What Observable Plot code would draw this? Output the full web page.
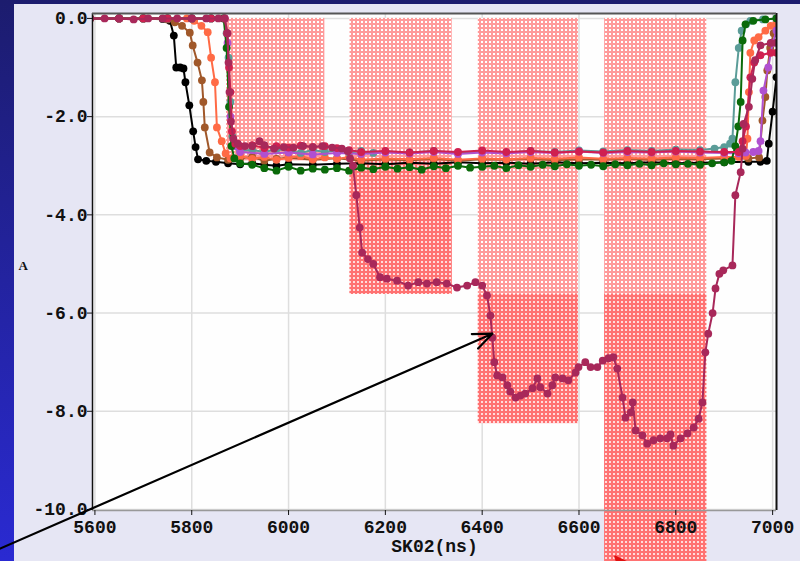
<!DOCTYPE html>
<html>
<head>
<meta charset="utf-8">
<script src="https://cdn.jsdelivr.net/npm/d3@7"></script>
<script src="https://cdn.jsdelivr.net/npm/@observablehq/plot@0.6"></script>
<style>
  html, body { margin: 0; padding: 0; width: 800px; height: 561px; overflow: hidden; }
  body {
    background:
      linear-gradient(#e6e6f4, #e6e6f4) 14px 4px / 100% 100% no-repeat,
      linear-gradient(to bottom, #1c1c6e, #2a2ad2);
  }
</style>
</head>
<body>
<div id="chart"></div>
<script>
// ---- axis ticks / labels ----
const xTicks = [5600, 5800, 6000, 6200, 6400, 6600, 6800, 7000];
const yTicks = [0, -2, -4, -6, -8, -10];
const xDomain = [5595, 7008];
const yDomain = [-10.02, 0.1];
const xLabel = "SK02(ns)";
const yLabel = "A";

// ---- shaded windows (x1, x2) and levels ----
const winX1 = [5872, 6127, 6392, 6653];
const winX2 = [6075, 6338, 6599, 6864];
const winTop = [0, 0, 0, 0];
const winBottom = [-2.9, -5.62, -8.25, -11.6];
const denseTop = [null, -2.9, -5.62, -5.62];

// ---- annotation arrows ----
const arrowFrom = [[5403, -10.8], [6760, -11.9]];
const arrowTo = [[6421, -6.42], [6675, -10.96]];
const arrowColor = ["#000000", "#e01010"];

// ---- series ----
const black = [[5590,0],[5650,0],[5700,0],[5740,-0.01],[5755,-0.05],[5763,-0.35],[5768,-1.0],[5776,-1.0],[5783,-1.02],[5787,-1.3],[5795,-1.77],[5803,-2.3],[5808,-2.62],[5813,-2.87],[5830,-2.9],[5850,-2.92],[5875,-2.95],[5900,-2.97],[5925,-2.95],[5950,-2.98],[5975,-3.0],[6000,-2.97],[6050,-2.98],[6100,-2.96],[6150,-2.95],[6200,-2.97],[6250,-2.94],[6300,-2.96],[6350,-2.93],[6400,-2.95],[6450,-2.94],[6500,-2.96],[6550,-2.93],[6600,-2.95],[6650,-2.94],[6700,-2.95],[6750,-2.93],[6800,-2.95],[6850,-2.94],[6900,-2.93],[6950,-2.92],[6975,-2.92],[6988,-2.9],[6992,-2.55],[7000,-1.9],[7008,-1.2]];
const brown = [[5590,0],[5650,0],[5700,0],[5750,-0.02],[5765,-0.08],[5780,-0.15],[5796,-0.29],[5802,-0.55],[5812,-0.9],[5821,-1.26],[5824,-1.7],[5827,-2.22],[5837,-2.73],[5852,-2.83],[5875,-2.88],[5900,-2.85],[5925,-2.82],[5950,-2.9],[5975,-2.86],[6000,-2.83],[6050,-2.88],[6100,-2.85],[6150,-2.9],[6200,-2.87],[6250,-2.89],[6300,-2.86],[6350,-2.9],[6400,-2.87],[6450,-2.88],[6500,-2.86],[6550,-2.89],[6600,-2.87],[6650,-2.88],[6700,-2.86],[6750,-2.88],[6800,-2.86],[6850,-2.87],[6900,-2.85],[6950,-2.85],[6972,-2.83],[6979,-2.08],[6985,-1.6],[6989,-1.06],[6995,-0.6],[7002,-0.3],[7008,-0.2]];
const tomato = [[5590,0],[5650,0],[5700,0],[5750,0],[5790,0],[5805,-0.05],[5820,-0.15],[5833,-0.28],[5840,-0.8],[5848,-1.3],[5852,-2.22],[5862,-2.5],[5870,-2.75],[5880,-2.85],[5900,-2.8],[5925,-2.86],[5950,-2.82],[5975,-2.88],[6000,-2.84],[6025,-2.8],[6050,-2.87],[6075,-2.83],[6100,-2.86],[6125,-2.82],[6150,-2.88],[6200,-2.85],[6250,-2.87],[6300,-2.84],[6350,-2.88],[6400,-2.85],[6450,-2.87],[6500,-2.84],[6550,-2.86],[6600,-2.83],[6650,-2.86],[6700,-2.84],[6750,-2.85],[6800,-2.83],[6850,-2.84],[6900,-2.82],[6930,-2.82],[6945,-2.8],[6948,-2.45],[6951,-1.5],[6954,-0.7],[6962,-0.45],[6971,-0.38],[6985,-0.25],[6996,-0.15],[7008,-0.1]];
const teal = [[5590,0],[5650,0],[5700,0],[5750,0],[5800,0],[5840,0],[5866,0],[5872,-0.3],[5876,-0.8],[5880,-1.7],[5884,-2.4],[5892,-2.6],[5900,-2.7],[5925,-2.68],[5950,-2.72],[5975,-2.66],[6000,-2.7],[6025,-2.74],[6050,-2.68],[6075,-2.72],[6100,-2.69],[6125,-2.73],[6150,-2.7],[6175,-2.74],[6200,-2.71],[6250,-2.73],[6300,-2.7],[6350,-2.74],[6400,-2.71],[6450,-2.73],[6500,-2.7],[6550,-2.72],[6600,-2.69],[6650,-2.71],[6700,-2.68],[6750,-2.7],[6800,-2.67],[6850,-2.68],[6880,-2.65],[6900,-2.62],[6912,-2.55],[6917,-2.45],[6923,-1.3],[6930,-0.6],[6936,-0.25],[6945,-0.12],[6954,-0.05],[6980,-0.02],[7008,0]];
const purple = [[5590,0],[5650,0],[5700,0],[5750,0],[5800,0],[5840,0],[5868,0],[5874,-0.5],[5880,-2.0],[5888,-2.6],[5900,-2.72],[5950,-2.76],[6000,-2.73],[6050,-2.77],[6100,-2.74],[6150,-2.76],[6200,-2.73],[6250,-2.75],[6300,-2.72],[6350,-2.76],[6400,-2.73],[6450,-2.75],[6500,-2.72],[6550,-2.74],[6600,-2.71],[6650,-2.74],[6700,-2.72],[6750,-2.73],[6800,-2.71],[6850,-2.73],[6900,-2.74],[6930,-2.75],[6944,-2.73],[6960,-2.72],[6971,-2.7],[6975,-2.5],[6981,-1.47],[6991,-1.0],[7000,-0.5],[7008,-0.25]];
const green = [[5590,0],[5650,0],[5700,0],[5750,0],[5800,0],[5840,0],[5866,0],[5872,-0.6],[5877,-1.8],[5882,-2.6],[5888,-2.85],[5900,-2.95],[5925,-2.98],[5950,-3.05],[5975,-3.1],[6000,-3.02],[6025,-3.1],[6050,-3.06],[6075,-3.08],[6100,-3.05],[6125,-3.1],[6150,-3.04],[6175,-3.07],[6200,-3.02],[6225,-3.06],[6250,-3.03],[6275,-3.08],[6300,-3.01],[6325,-3.05],[6350,-3.0],[6375,-3.04],[6400,-3.02],[6425,-3.0],[6450,-3.05],[6475,-2.99],[6500,-3.02],[6525,-2.98],[6550,-3.01],[6575,-2.97],[6600,-3.0],[6625,-2.98],[6650,-3.01],[6675,-2.97],[6700,-2.99],[6725,-2.96],[6750,-2.99],[6775,-2.95],[6800,-2.97],[6825,-2.96],[6850,-2.98],[6875,-2.95],[6900,-2.93],[6915,-2.9],[6923,-2.6],[6929,-2.2],[6934,-1.7],[6938,-0.45],[6944,-0.12],[6960,-0.05],[6985,-0.02],[7008,0]];
const crimson = [[5590,0],[5650,0],[5700,0],[5750,0],[5800,0],[5840,0],[5868,0],[5873,-0.3],[5877,-1.0],[5880,-1.5],[5883,-2.3],[5890,-2.55],[5900,-2.6],[5925,-2.58],[5950,-2.64],[5975,-2.6],[6000,-2.63],[6025,-2.59],[6050,-2.62],[6075,-2.6],[6100,-2.64],[6125,-2.68],[6150,-2.72],[6200,-2.7],[6250,-2.73],[6300,-2.7],[6350,-2.72],[6400,-2.69],[6450,-2.72],[6500,-2.7],[6550,-2.73],[6600,-2.71],[6650,-2.73],[6700,-2.7],[6750,-2.72],[6800,-2.7],[6850,-2.71],[6900,-2.72],[6930,-2.72],[6938,-2.5],[6945,-2.2],[6954,-1.2],[6962,-0.9],[6975,-0.75],[6996,-0.7],[7008,-0.7]];
const main = [[5590,0],[5620,0],[5650,0],[5680,-0.02],[5710,0],[5740,0],[5770,0],[5800,0],[5830,0],[5855,0],[5868,0],[5874,-0.3],[5876,-0.9],[5878,-1.5],[5881,-2.1],[5886,-2.45],[5895,-2.55],[5910,-2.6],[5925,-2.6],[5940,-2.5],[5950,-2.58],[5970,-2.65],[5990,-2.62],[6010,-2.63],[6030,-2.6],[6050,-2.62],[6070,-2.6],[6090,-2.63],[6110,-2.65],[6122,-2.7],[6127,-2.85],[6133,-3.0],[6140,-3.6],[6147,-4.26],[6152,-4.77],[6164,-4.9],[6175,-5.0],[6189,-5.27],[6203,-5.3],[6224,-5.34],[6247,-5.44],[6268,-5.37],[6286,-5.4],[6306,-5.37],[6327,-5.4],[6348,-5.48],[6369,-5.44],[6386,-5.37],[6400,-5.44],[6410,-5.64],[6417,-6.05],[6421,-6.5],[6425,-7.0],[6431,-7.27],[6442,-7.31],[6452,-7.47],[6458,-7.6],[6469,-7.72],[6479,-7.68],[6489,-7.64],[6504,-7.53],[6514,-7.33],[6520,-7.51],[6535,-7.64],[6545,-7.47],[6551,-7.31],[6566,-7.33],[6578,-7.37],[6593,-7.21],[6599,-7.1],[6613,-7.0],[6624,-7.1],[6638,-7.1],[6649,-6.97],[6661,-6.92],[6671,-6.9],[6679,-7.13],[6690,-7.72],[6696,-8.13],[6707,-8.02],[6711,-7.82],[6717,-8.39],[6731,-8.49],[6741,-8.66],[6754,-8.59],[6768,-8.55],[6782,-8.55],[6789,-8.47],[6795,-8.7],[6810,-8.55],[6824,-8.45],[6837,-8.33],[6847,-8.15],[6855,-7.82],[6861,-6.8],[6867,-6.42],[6876,-6.0],[6882,-5.5],[6890,-5.2],[6898,-5.13],[6917,-5.03],[6923,-3.6],[6934,-3.13],[6938,-2.65],[6940,-2.15],[6951,-1.8],[6958,-1.23],[6964,-0.85],[6975,-0.55],[6996,-0.5],[7008,-0.5]];

const seriesNames = ["black", "brown", "tomato", "teal", "purple", "green", "crimson", "main"];
const seriesData = [black, brown, tomato, teal, purple, green, crimson, main];
const seriesColors = ["#000000", "#a0582a", "#ff6a45", "#5a9c98", "#b050d0", "#0a6a0a", "#d02050", "#a8285a"];

// ---- build tables ----
const windows = winX1.map((x1, i) => ({x1, x2: winX2[i], y1: winTop[i], y2: winBottom[i]}));
const dense = winX1.map((x1, i) => ({x1, x2: winX2[i], y1: denseTop[i], y2: winBottom[i]})).filter(d => d.y1 !== null);
const arrows = arrowFrom.map((f, i) => ({x1: f[0], y1: f[1], x2: arrowTo[i][0], y2: arrowTo[i][1], c: arrowColor[i]}));

const seriesMarks = seriesData.flatMap((data, i) => [
  Plot.line(data, {x: d => d[0], y: d => d[1], stroke: seriesColors[i], strokeWidth: 2, clip: true}),
  Plot.dot(data, {x: d => d[0], y: d => d[1], fill: seriesColors[i], r: 3.9, clip: true})
]);

const mono = "'Liberation Mono', 'DejaVu Sans Mono', monospace";

const chart = Plot.plot({
  width: 800,
  height: 561,
  marginLeft: 92,
  marginRight: 24,
  marginTop: 13,
  marginBottom: 51,
  style: {background: "transparent", fontFamily: mono, fontSize: "18px", fontWeight: "bold", color: "#111", overflow: "visible"},
  x: {domain: xDomain},
  y: {domain: yDomain},
  marks: [
    Plot.frame({fill: "#fefefe", stroke: null}),
    Plot.gridX(xTicks, {stroke: "#dedede", strokeOpacity: 1, strokeWidth: 1.5}),
    Plot.gridY(yTicks, {stroke: "#dedede", strokeOpacity: 1, strokeWidth: 1.5}),
    Plot.rect(windows, {x1: "x1", x2: "x2", y1: "y1", y2: "y2", fill: "url(#hatchLight)", clip: false}),
    Plot.rect(dense, {x1: "x1", x2: "x2", y1: "y1", y2: "y2", fill: "url(#hatchDense)", clip: false}),
    ...seriesMarks,
    Plot.ruleX([xDomain[0]], {stroke: "#111", strokeWidth: 1.5}),
    Plot.ruleX([xDomain[1]], {stroke: "#111", strokeWidth: 2}),
    Plot.ruleY([yDomain[1]], {stroke: "#555", strokeWidth: 2}),
    Plot.ruleY([yDomain[0]], {stroke: "#999", strokeWidth: 1.5}),
    Plot.axisX(xTicks, {tickSize: 5, tickPadding: 5, label: null, tickFormat: d => String(d)}),
    Plot.axisY(yTicks, {tickSize: 5, tickPadding: 0, label: null, tickFormat: d => d.toFixed(1)}),
    Plot.text([xLabel], {text: d => d, frameAnchor: "bottom", dy: 41, fontFamily: mono, fontSize: 18, fontWeight: "bold"}),
    Plot.text([yLabel], {text: d => d, frameAnchor: "left", dx: -74, dy: 4, fontFamily: "'Liberation Serif', serif", fontSize: 13, fontWeight: "bold"}),
    Plot.arrow(arrows, {x1: "x1", y1: "y1", x2: "x2", y2: "y2", stroke: "c", strokeWidth: 2.2, headLength: 14, headAngle: 45, clip: false})
  ]
});

d3.select(chart).insert("defs", ":first-child").html(`
  <pattern id="hatchLight" width="4" height="4" patternUnits="userSpaceOnUse">
    <rect width="4" height="4" fill="#ff9a9a"/>
    <rect x="1" y="1" width="2" height="2" fill="#ffffff"/>
  </pattern>
  <pattern id="hatchDense" width="4" height="4" patternUnits="userSpaceOnUse">
    <rect width="4" height="4" fill="#ff7272"/>
    <rect x="1" y="1" width="2" height="2" fill="#ffdcdc"/>
  </pattern>
`);

document.getElementById("chart").appendChild(chart);
</script>
</body>
</html>
